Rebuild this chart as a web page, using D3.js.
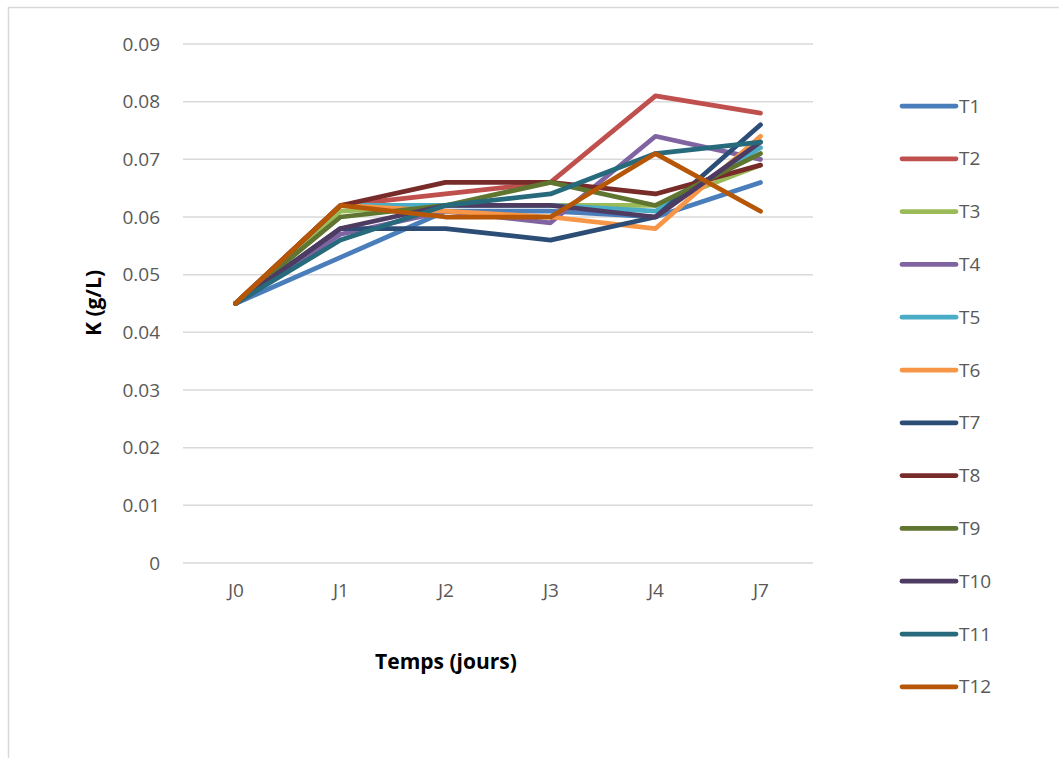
<!DOCTYPE html>
<html>
<head>
<meta charset="utf-8">
<script src="https://cdn.jsdelivr.net/npm/d3@7"></script>
<style>
body { margin: 0; background: #fff; }
text { font-family: "Open Sans", Calibri, sans-serif; }
</style>
</head>
<body>
<div id="chart"></div>
<script>
// categories and series
var days = ["J0", "J1", "J2", "J3", "J4", "J7"];
var names = ["T1", "T2", "T3", "T4", "T5", "T6", "T7", "T8", "T9", "T10", "T11", "T12"];
var colors = ["#4a7ebb", "#c0504d", "#9bbb59", "#8064a2", "#4bacc6", "#f79646",
              "#2c4d75", "#772c2a", "#5f7530", "#4d3b62", "#276a7c", "#b65708"];
var t1 = [0.045, 0.053, 0.061, 0.061, 0.060, 0.066];
var t2 = [0.045, 0.062, 0.064, 0.066, 0.081, 0.078];
var t3 = [0.045, 0.061, 0.062, 0.062, 0.062, 0.069];
var t4 = [0.045, 0.057, 0.061, 0.059, 0.074, 0.070];
var t5 = [0.045, 0.062, 0.062, 0.062, 0.061, 0.072];
var t6 = [0.045, 0.062, 0.061, 0.060, 0.058, 0.074];
var t7 = [0.045, 0.058, 0.058, 0.056, 0.060, 0.076];
var t8 = [0.045, 0.062, 0.066, 0.066, 0.064, 0.069];
var t9 = [0.045, 0.060, 0.062, 0.066, 0.062, 0.071];
var t10 = [0.045, 0.058, 0.062, 0.062, 0.060, 0.073];
var t11 = [0.045, 0.056, 0.062, 0.064, 0.071, 0.073];
var t12 = [0.045, 0.062, 0.060, 0.060, 0.071, 0.061];
var series = [t1, t2, t3, t4, t5, t6, t7, t8, t9, t10, t11, t12];
var yTicks = [0, 0.01, 0.02, 0.03, 0.04, 0.05, 0.06, 0.07, 0.08, 0.09];

var W = 1059, H = 758;
var margin = {top: 44, left: 183, right: 246, bottom: 195};
var width = W - margin.left - margin.right,
    height = H - margin.top - margin.bottom;

var svg = d3.select("#chart")
  .append("svg")
  .attr("width", W)
  .attr("height", H);

// outer chart border (only left/top visible in the frame)
svg.append("rect")
  .attr("x", 8.5).attr("y", 7.5)
  .attr("width", W + 20).attr("height", H + 20)
  .attr("fill", "none")
  .attr("stroke", "#d9d9d9")
  .attr("stroke-width", 1.5);

var g = svg.append("g")
  .attr("transform", "translate(" + margin.left + "," + margin.top + ")");

var x = d3.scalePoint()
  .domain(days)
  .range([0, width])
  .padding(0.5);

var y = d3.scaleLinear()
  .domain([0, 0.09])
  .range([height, 0]);

// gridlines
g.append("g")
  .selectAll("line")
  .data(yTicks)
  .enter()
  .append("line")
  .attr("x1", 0).attr("x2", width)
  .attr("y1", function (d) { return y(d); })
  .attr("y2", function (d) { return y(d); })
  .attr("stroke", "#d9d9d9")
  .attr("stroke-width", 1.5);

// Y axis labels
var yAxis = g.append("g")
  .call(d3.axisLeft(y).tickValues(yTicks).tickSize(0).tickPadding(23)
    .tickFormat(function (d) { return d === 0 ? "0" : d3.format(".2f")(d); }));
yAxis.select(".domain").remove();
yAxis.selectAll("text")
  .style("font-family", "'Open Sans', Calibri, sans-serif")
  .attr("font-size", 19)
  .attr("fill", "#595959");

// X axis labels
var xAxis = g.append("g")
  .attr("transform", "translate(0," + height + ")")
  .call(d3.axisBottom(x).tickSize(0).tickPadding(21));
xAxis.select(".domain").remove();
xAxis.selectAll("text")
  .style("font-family", "'Open Sans', Calibri, sans-serif")
  .attr("font-size", 19)
  .attr("fill", "#595959");

// axis titles
svg.append("text")
  .attr("x", 446)
  .attr("y", 669)
  .attr("text-anchor", "middle")
  .attr("font-size", 21)
  .attr("font-weight", "bold")
  .attr("fill", "#000")
  .text("Temps (jours)");

svg.append("text")
  .attr("transform", "translate(101," + 303 + ") rotate(-90)")
  .attr("text-anchor", "middle")
  .attr("font-size", 21)
  .attr("font-weight", "bold")
  .attr("fill", "#000")
  .text("K (g/L)");

// lines
var line = d3.line()
  .x(function (d, i) { return x(days[i]); })
  .y(function (d) { return y(d); });

g.append("g")
  .selectAll("path")
  .data(series)
  .enter()
  .append("path")
  .attr("d", line)
  .attr("fill", "none")
  .attr("stroke", function (d, i) { return colors[i]; })
  .attr("stroke-width", 4.75)
  .attr("stroke-linejoin", "round")
  .attr("stroke-linecap", "round");

// legend
var legend = svg.append("g")
  .selectAll("g")
  .data(names)
  .enter()
  .append("g")
  .attr("transform", function (d, i) { return "translate(902," + (106 + i * 52.8) + ")"; });

legend.append("line")
  .attr("x1", 0).attr("x2", 54)
  .attr("stroke", function (d, i) { return colors[i]; })
  .attr("stroke-width", 4.75)
  .attr("stroke-linecap", "round");

legend.append("text")
  .attr("x", 57)
  .attr("dy", "0.35em")
  .attr("font-size", 19)
  .attr("fill", "#595959")
  .text(function (d) { return d; });
</script>
</body>
</html>
